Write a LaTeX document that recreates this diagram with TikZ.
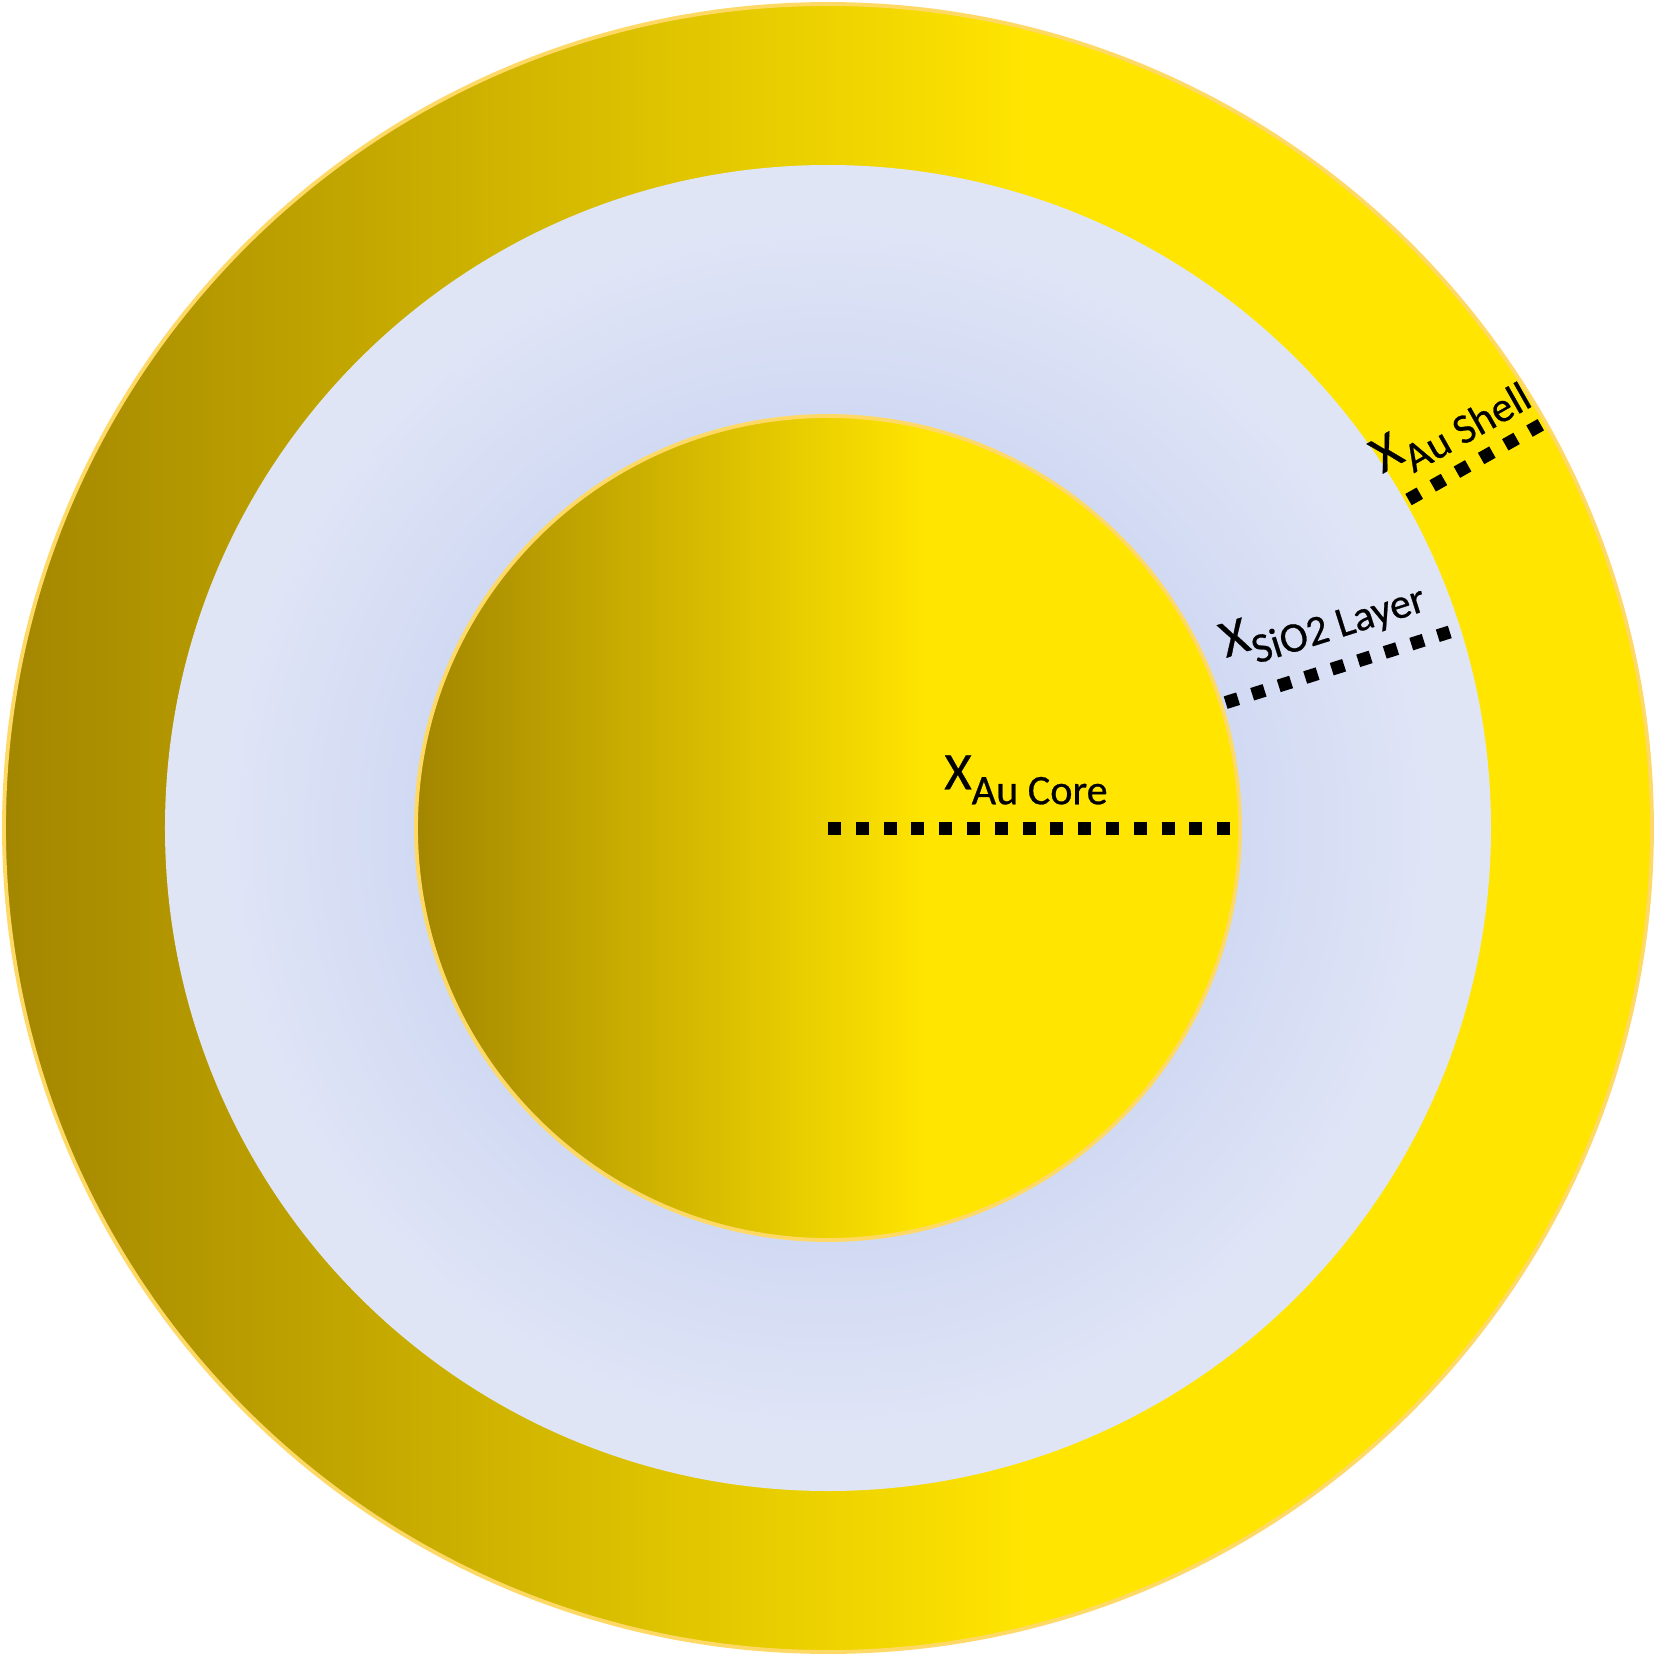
\documentclass[tikz,border=0pt]{standalone}
\usepackage{fontspec}
\setmainfont{Carlito}
\newfontfamily\lblfont[FakeBold=0.6]{Carlito}
\usepackage{xcolor}
\usepackage{tikz}
\usetikzlibrary{positioning}

\definecolor{golddark}{RGB}{163,134,0}
\definecolor{goldlight}{RGB}{255,229,0}
\definecolor{rimgold}{RGB}{255,217,102}
\definecolor{sioin}{RGB}{208,217,243}
\definecolor{sioout}{RGB}{224,229,246}

\pgfdeclarehorizontalshading{goldshade}{100bp}{color(0bp)=(golddark); color(25bp)=(golddark); color(56bp)=(goldlight); color(100bp)=(goldlight)}
\pgfdeclareradialshading{silicashade}{\pgfpoint{0bp}{0bp}}{color(0bp)=(sioin); color(15bp)=(sioin); color(23bp)=(sioout); color(50bp)=(sioout)}

\newcommand{\xsub}[1]{{\fontsize{15}{15}\selectfont X}\raisebox{-0.15cm}{\fontsize{12}{12}\selectfont #1}}

\begin{document}
\begin{tikzpicture}[rim/.style={draw=rimgold, line width=1.1pt}, dots/.style={line width=0.13cm, dash pattern=on 0.13cm off 0.148cm}, lbl/.style={inner sep=0pt, font=\lblfont}]
    \useasboundingbox (-8.28,-8.31) rectangle (8.31,8.28);
    \fill[white] (-8.28,-8.31) rectangle (8.31,8.28);
    % shells
    \shadedraw[shading=goldshade, rim] (0,0) circle (8.24);
    \shade[shading=silicashade] (0,0) circle (6.63);
    \shadedraw[shading=goldshade, rim] (0,0) circle (4.12);
    % thickness markers
    \coordinate (c) at (0,0);
    \coordinate (coreend) at (4.02,0);
    \coordinate (sioa) at (17.5:4.17);
    \coordinate (siob) at (17.5:6.52);
    \coordinate (shella) at (29.5:6.67);
    \coordinate (shellb) at (29.5:8.19);
    \draw[dots] (c) -- (coreend);
    \draw[dots] (sioa) -- (siob);
    \draw[dots] (shella) -- (shellb);
    % labels
    \node[lbl] (corelbl) at (1.98,0.48) {\xsub{Au Core}};
    \node[lbl, rotate=17.5] (siolbl) at (4.95,2.07) {\xsub{SiO2 Layer}};
    \node[lbl, rotate=29.5] (shelllbl) at (6.22,4.03) {\xsub{Au Shell}};
  \end{tikzpicture}
\end{document}
